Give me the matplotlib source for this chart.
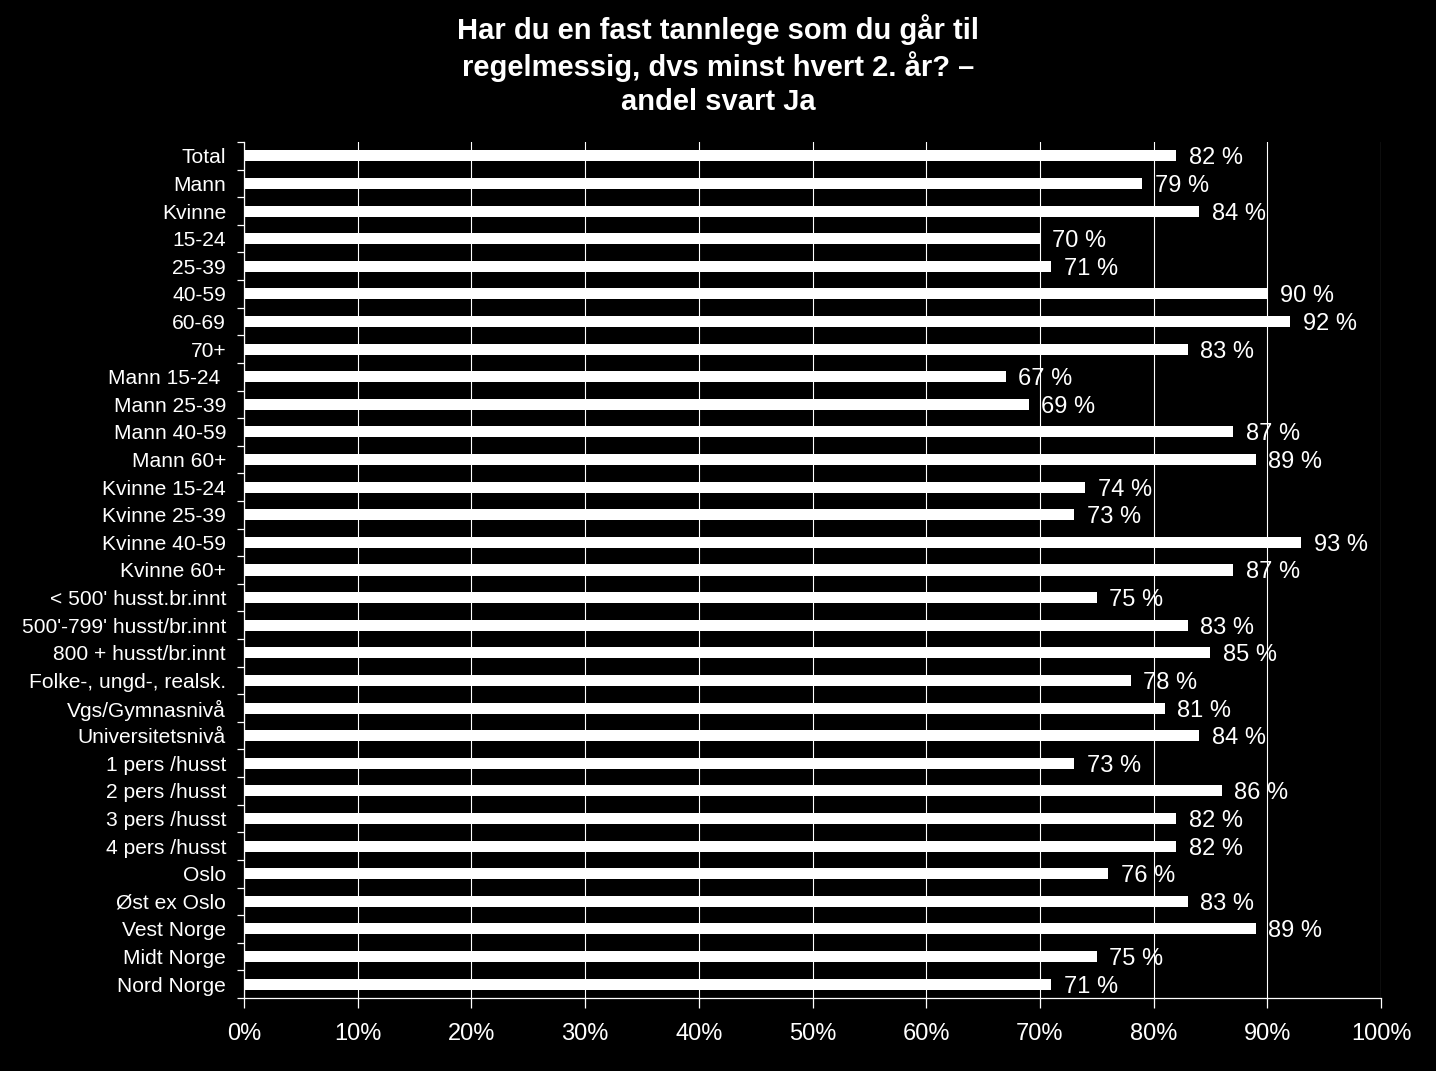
import matplotlib.pyplot as plt
from matplotlib.ticker import FuncFormatter

plt.rcParams['font.family'] = ['Liberation Sans', 'DejaVu Sans']

categories = ["Total", "Mann", "Kvinne", "15-24", "25-39", "40-59", "60-69", "70+",
              "Mann 15-24 ", "Mann 25-39", "Mann 40-59", "Mann 60+",
              "Kvinne 15-24", "Kvinne 25-39", "Kvinne 40-59", "Kvinne 60+",
              "< 500' husst.br.innt", "500'-799' husst/br.innt", "800 + husst/br.innt",
              "Folke-, ungd-, realsk.", "Vgs/Gymnasnivå", "Universitetsnivå",
              "1 pers /husst", "2 pers /husst", "3 pers /husst", "4 pers /husst",
              "Oslo", "Øst ex Oslo", "Vest Norge", "Midt Norge", "Nord Norge"]
values = [82, 79, 84, 70, 71, 90, 92, 83,
          67, 69, 87, 89,
          74, 73, 93, 87,
          75, 83, 85,
          78, 81, 84,
          73, 86, 82, 82,
          76, 83, 89, 75, 71]
xticks = [0, 10, 20, 30, 40, 50, 60, 70, 80, 90, 100]

fig = plt.figure(figsize=(14.36, 10.71), dpi=100, facecolor='black')
ax = fig.add_axes([0.170, 0.0682, 0.7917, 0.7992], facecolor='black')

y = list(range(len(categories)))
ax.barh(y, values, height=0.4, color='white', zorder=3)
for yi, v in zip(y, values):
    ax.text(v + 1.1, yi, f"{v} %", color='white', fontsize=17,
            va='center_baseline', ha='left', zorder=4)

ax.set_ylim(len(categories) - 0.5, -0.5)
ax.set_xlim(0, 100)
ax.set_yticks(y)
ax.set_yticklabels(categories)
ax.set_xticks(xticks)
ax.xaxis.set_major_formatter(FuncFormatter(lambda x, p: f"{int(x)}%"))

ax.grid(axis='x', color='white', linewidth=0.8, zorder=1)
ax.set_axisbelow(True)
for s in ['top', 'right']:
    ax.spines[s].set_visible(False)
for s in ['left', 'bottom']:
    ax.spines[s].set_color('white')
    ax.spines[s].set_linewidth(0.9)
ax.tick_params(axis='y', colors='white', labelsize=15.1, length=0, pad=13)
ax.tick_params(axis='x', colors='white', labelsize=17, length=7, width=0.9, pad=11, direction='out')
# y ticks sit between categories in the original
ax.set_yticks([i + 0.5 for i in range(-1, len(categories))], minor=True)
ax.tick_params(axis='y', which='minor', colors='white', length=5, width=0.9)

fig.text(0.5, 0.987, "Har du en fast tannlege som du går til\nregelmessig, dvs minst hvert 2. år? –\nandel svart Ja",
         color='white', fontsize=21, fontweight='bold', ha='center', va='top', linespacing=1.27)

fig.savefig('out.png', dpi=100, facecolor='black')
